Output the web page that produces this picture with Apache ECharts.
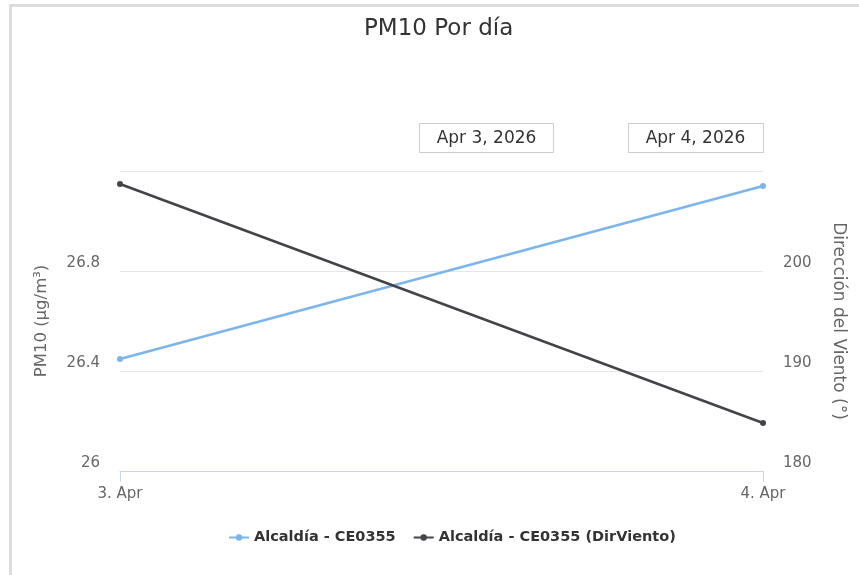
<!DOCTYPE html>
<html>
<head>
<meta charset="utf-8">
<script src="https://cdn.jsdelivr.net/npm/echarts@6/dist/echarts.min.js"></script>
<style>
  html, body { margin: 0; padding: 0; background: #fff; }
  #chart { width: 859px; height: 575px; }
</style>
</head>
<body>
<div id="chart"></div>
<script>
// fechas (eje x)
var days = ['3. Apr', '4. Apr'];
var dayBoxes = ['Apr 3, 2026', 'Apr 4, 2026'];
// PM10 (µg/m³)
var pm10 = [26.448, 27.14];
// Dirección del viento (°)
var dirViento = [208.7, 184.8];

var font = 'DejaVu Sans';
var chart = echarts.init(document.getElementById('chart'));

var option = {
  animation: false,
  textStyle: { fontFamily: font },
  title: {
    text: 'PM10 Por día',
    left: 359,
    top: 13,
    textStyle: { fontFamily: font, fontSize: 23, fontWeight: 'normal', color: '#333' }
  },
  grid: { left: 120, right: 96, top: 171, bottom: 104 },
  legend: {
    bottom: 25,
    left: 223,
    itemWidth: 20,
    itemHeight: 8,
    itemGap: 17,
    textStyle: { fontFamily: font, fontSize: 14.5, fontWeight: 'bold', color: '#333' },
    data: ['Alcaldía - CE0355', 'Alcaldía - CE0355 (DirViento)']
  },
  xAxis: {
    type: 'category',
    boundaryGap: false,
    data: days,
    axisLine: { lineStyle: { color: '#ccd6eb', width: 1 } },
    axisTick: { show: true, length: 11, lineStyle: { color: '#ccd6eb' } },
    axisLabel: { color: '#666', fontSize: 15, margin: 16 },
    splitLine: { show: false }
  },
  yAxis: [{
    type: 'value',
    min: 26,
    max: 27.2,
    interval: 0.4,
    name: 'PM10 (µg/m³)',
    nameLocation: 'middle',
    nameGap: 70,
    nameTextStyle: { color: '#666', fontSize: 16.5 },
    axisLine: { show: false },
    axisTick: { show: false },
    axisLabel: {
      color: '#666', fontSize: 15, margin: 20, verticalAlign: 'bottom',
      formatter: function (v) { return v >= 27.2 ? '' : String(+v.toFixed(1)); }
    },
    splitLine: { lineStyle: { color: '#e6e6e6' } }
  }, {
    type: 'value',
    min: 180,
    max: 210,
    interval: 10,
    name: 'Dirección del Viento (°)',
    nameLocation: 'middle',
    nameGap: 67,
    nameRotate: -90,
    nameTextStyle: { color: '#666', fontSize: 17 },
    axisLine: { show: false },
    axisTick: { show: false },
    axisLabel: {
      color: '#666', fontSize: 15, margin: 20, verticalAlign: 'bottom',
      formatter: function (v) { return v >= 210 ? '' : String(v); }
    },
    splitLine: { show: false }
  }],
  series: [{
    name: 'Alcaldía - CE0355',
    type: 'line',
    yAxisIndex: 0,
    data: pm10,
    symbol: 'circle',
    symbolSize: 6,
    lineStyle: { color: '#7cb5ec', width: 2.5 },
    itemStyle: { color: '#7cb5ec' }
  }, {
    name: 'Alcaldía - CE0355 (DirViento)',
    type: 'line',
    yAxisIndex: 1,
    data: dirViento,
    symbol: 'circle',
    symbolSize: 6,
    lineStyle: { color: '#434348', width: 2.5 },
    itemStyle: { color: '#434348' }
  }],
  graphic: [
    { type: 'rect', shape: { x: 9, y: 4, width: 860, height: 3 }, style: { fill: '#dcdcdc' } },
    { type: 'rect', shape: { x: 9, y: 4, width: 3, height: 580 }, style: { fill: '#dcdcdc' } },
    {
      type: 'group', left: 419, top: 123,
      children: [
        { type: 'rect', shape: { x: 0, y: 0, width: 134, height: 29 }, style: { fill: '#fff', stroke: '#cccccc', lineWidth: 1 } },
        { type: 'text', x: 67, y: 15, style: { text: dayBoxes[0], fontFamily: font, fontSize: 17, fill: '#333', align: 'center', verticalAlign: 'middle' } }
      ]
    },
    {
      type: 'group', left: 628, top: 123,
      children: [
        { type: 'rect', shape: { x: 0, y: 0, width: 135, height: 29 }, style: { fill: '#fff', stroke: '#cccccc', lineWidth: 1 } },
        { type: 'text', x: 67, y: 15, style: { text: dayBoxes[1], fontFamily: font, fontSize: 17, fill: '#333', align: 'center', verticalAlign: 'middle' } }
      ]
    }
  ]
};

chart.setOption(option);
</script>
</body>
</html>
